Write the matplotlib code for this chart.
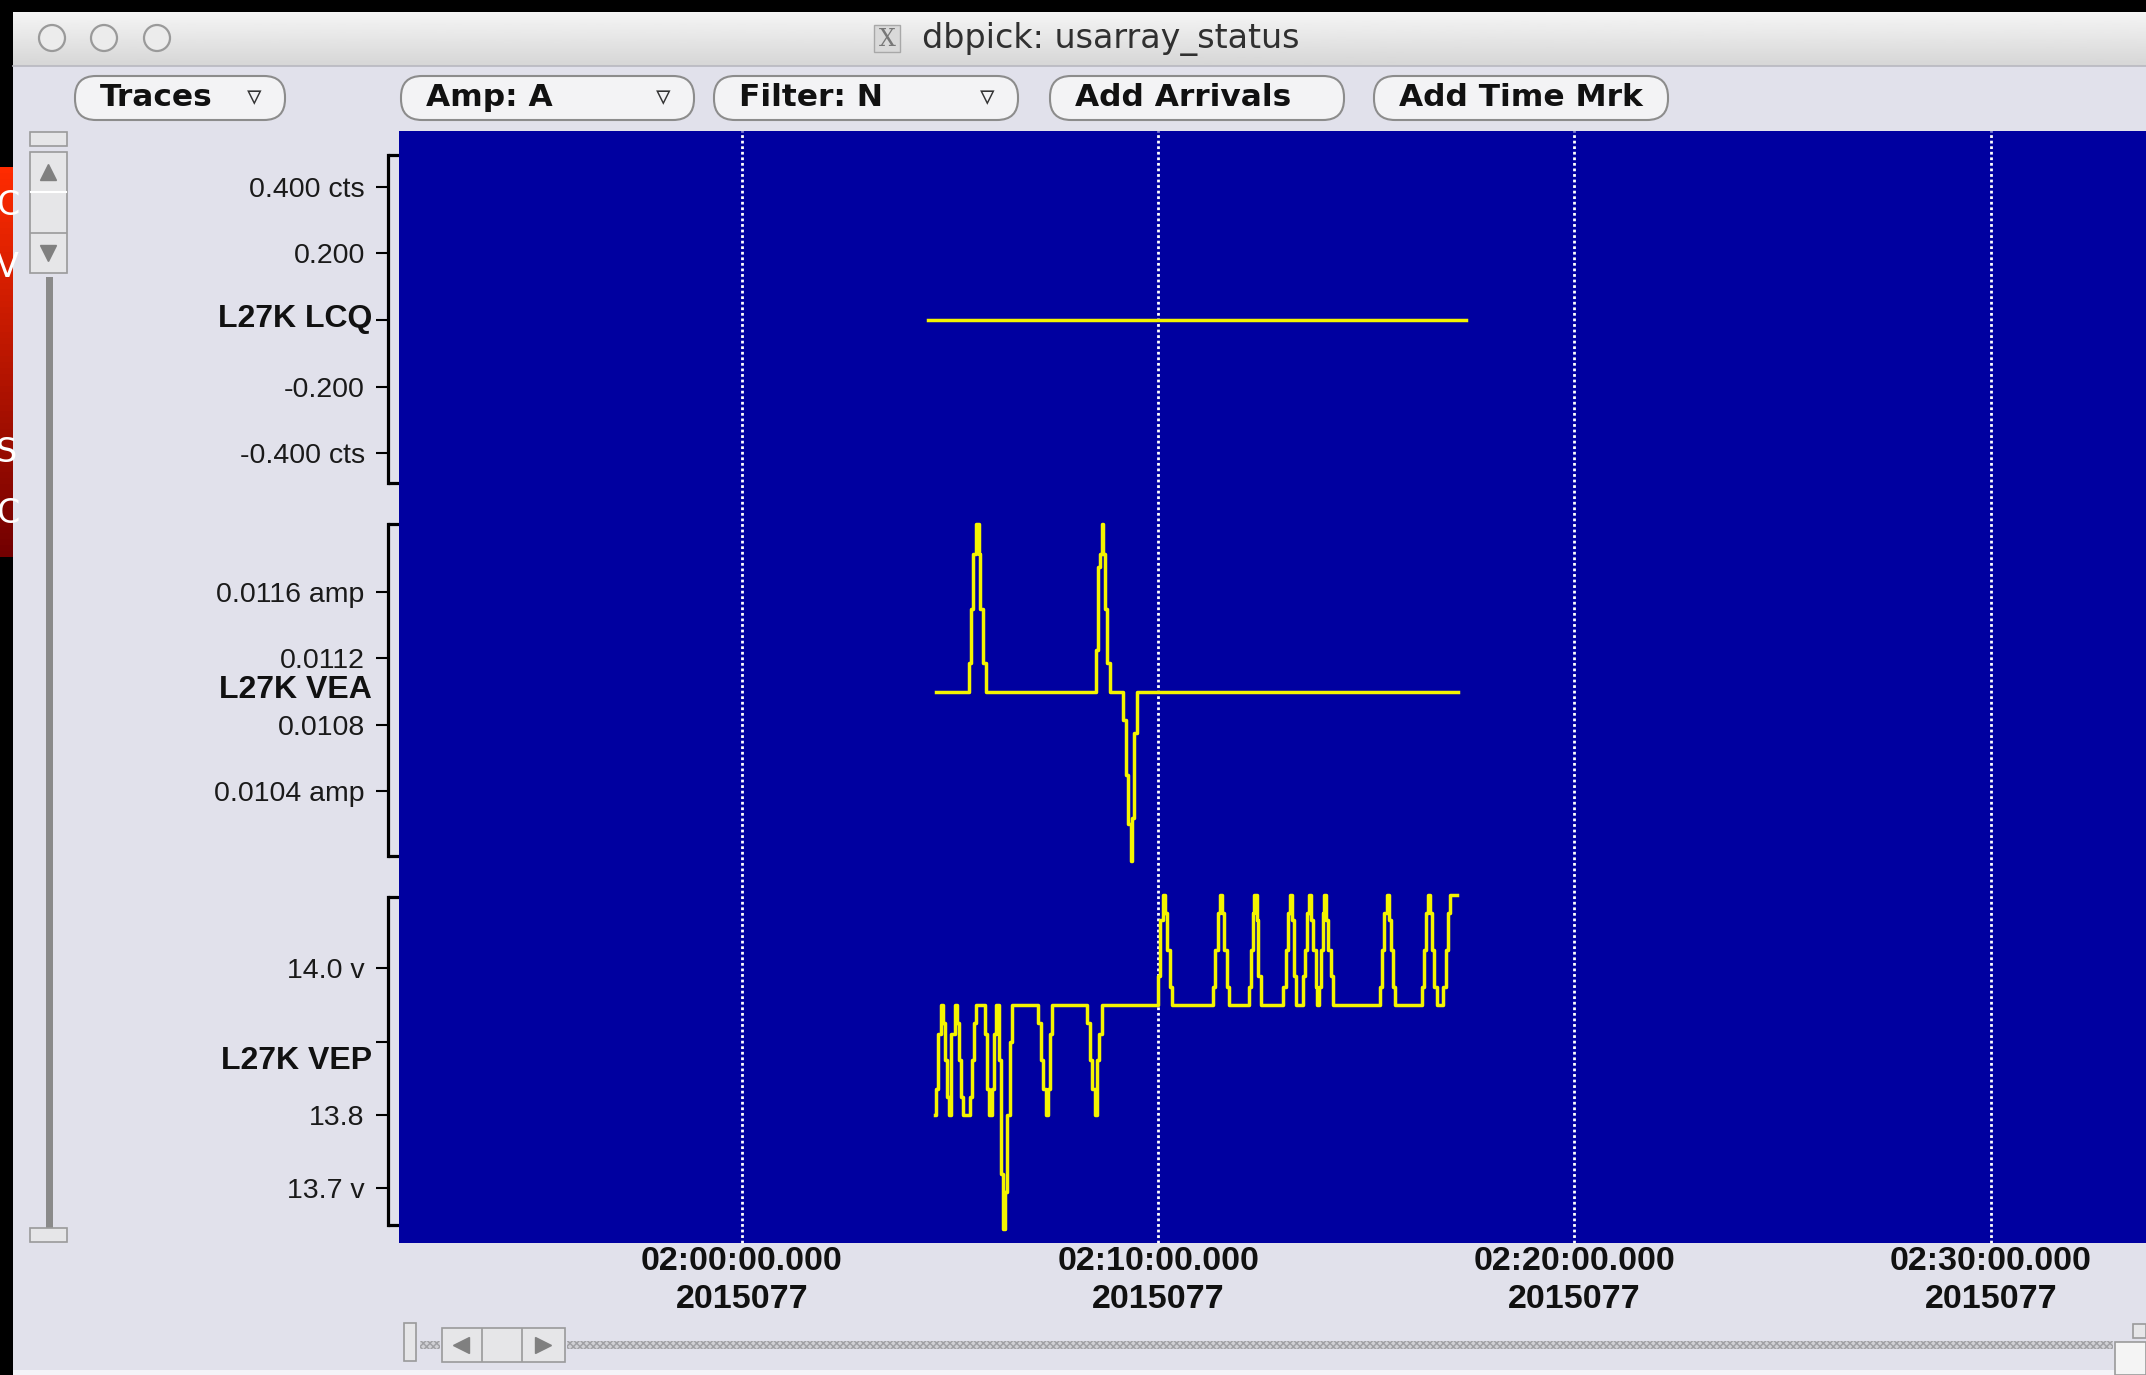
import numpy as np
import matplotlib

matplotlib.use('Agg')
import matplotlib.pyplot as plt
from matplotlib.patches import Rectangle, FancyBboxPatch, Circle

W, H = 2146, 1375
DPI = 100

# minutes after 02:00:00 on day 2015077
lcq_t = [4.47, 17.39]
lcq_v = [0.0, 0.0]

vea_t = [4.650, 5.459, 5.505, 5.560, 5.615, 5.689, 5.726, 5.799, 5.854,
         8.502, 8.557, 8.612, 8.649, 8.667, 8.722, 8.778, 8.833,
         9.155, 9.219, 9.283, 9.348, 9.366, 9.421, 9.485, 17.190]
vea_v = [0.01100, 0.01117, 0.01150, 0.01183, 0.01201, 0.01183, 0.01150, 0.01117, 0.01100,
         0.01125, 0.01175, 0.01183, 0.01201, 0.01183, 0.01150, 0.01117, 0.01100,
         0.01083, 0.01050, 0.01020, 0.00998, 0.01024, 0.01075, 0.01100, 0.01100]

vep_t = [4.640, 4.668, 4.714, 4.788, 4.825, 4.880, 4.926, 4.972, 5.018, 5.128,
         5.174, 5.220, 5.266, 5.312, 5.468, 5.523, 5.569, 5.615, 5.836, 5.891,
         5.937, 6.001, 6.047, 6.093, 6.167, 6.231, 6.277, 6.323, 6.369, 6.433,
         6.489, 7.123, 7.178, 7.242, 7.298, 7.344, 7.399, 7.454, 8.299, 8.364,
         8.419, 8.474, 8.520, 8.575, 8.640,
         10.001, 10.041, 10.121, 10.161, 10.217, 10.281, 10.329,
         11.322, 11.370, 11.426, 11.482, 11.522, 11.579, 11.643, 11.691,
         12.171, 12.219, 12.267, 12.307, 12.363, 12.403, 12.467,
         13.004, 13.060, 13.108, 13.164, 13.204, 13.260, 13.308,
         13.484, 13.532, 13.580, 13.628, 13.668, 13.724, 13.780, 13.821,
         13.853, 13.901, 13.949, 13.981, 14.021, 14.085, 14.141, 14.189,
         15.326, 15.382, 15.430, 15.486, 15.534, 15.582, 15.646, 15.694,
         16.327, 16.383, 16.439, 16.487, 16.527, 16.583, 16.631, 16.687,
         16.847, 16.903, 16.951, 17.007, 17.183]
vep_v = [13.800, 13.835, 13.910, 13.950, 13.925, 13.875, 13.825, 13.800, 13.910, 13.950,
         13.925, 13.875, 13.825, 13.800, 13.825, 13.875, 13.925, 13.950, 13.910, 13.835,
         13.800, 13.835, 13.910, 13.950, 13.875, 13.720, 13.645, 13.695, 13.800, 13.900,
         13.950, 13.925, 13.875, 13.835, 13.800, 13.835, 13.910, 13.950, 13.925, 13.875,
         13.835, 13.800, 13.875, 13.910, 13.950,
         13.990, 14.065, 14.100, 14.075, 14.025, 13.975, 13.950,
         13.975, 14.025, 14.075, 14.100, 14.075, 14.025, 13.975, 13.950,
         13.975, 14.025, 14.075, 14.100, 14.065, 13.990, 13.950,
         13.975, 14.025, 14.075, 14.100, 14.065, 13.990, 13.950,
         13.990, 14.025, 14.075, 14.100, 14.065, 14.025, 13.975, 13.950,
         13.975, 14.025, 14.075, 14.100, 14.065, 14.025, 13.990, 13.950,
         13.975, 14.025, 14.075, 14.100, 14.065, 14.025, 13.975, 13.950,
         13.975, 14.025, 14.075, 14.100, 14.075, 14.025, 13.975, 13.950,
         13.975, 14.025, 14.075, 14.100, 14.100]

time_ticks = [0, 10, 20, 30]
time_labels = ['02:00:00.000\n2015077', '02:10:00.000\n2015077',
               '02:20:00.000\n2015077', '02:30:00.000\n2015077']
x_range = (-8.24, 33.73)

channels = [
    # name, t, v, ylim, ticks, tick labels, box top/bottom (px)
    ('L27K LCQ', lcq_t, lcq_v, (-0.490, 0.496),
     [0.4, 0.2, 0.0, -0.2, -0.4], ['0.400 cts', '0.200', '', '-0.200', '-0.400 cts'], (155, 483)),
    ('L27K VEA', vea_t, vea_v, (0.01001, 0.01201),
     [0.0116, 0.0112, 0.0108, 0.0104], ['0.0116 amp', '0.0112', '0.0108', '0.0104 amp'], (524, 856)),
    ('L27K VEP', vep_t, vep_v, (13.650, 14.097),
     [14.0, 13.9, 13.8, 13.7], ['14.0 v', '', '13.8', '13.7 v'], (897, 1225)),
]

buttons = [('Traces', 75, 285, True), ('Amp: A', 401, 694, True), ('Filter: N', 714, 1018, True),
           ('Add Arrivals', 1050, 1344, False), ('Add Time Mrk', 1374, 1668, False)]

BG = '#e1e1eb'
BLUE = '#0000a0'
YELLOW = '#f4f400'
TICKFONT = ['Liberation Sans', 'DejaVu Sans']


def box(x0, y0, x1, y1):
    return [x0 / W, 1 - y1 / H, (x1 - x0) / W, (y1 - y0) / H]


fig = plt.figure(figsize=(W / DPI, H / DPI), dpi=DPI)
fig.patch.set_facecolor(BG)

# window chrome, drawn in pixel coordinates
ui = fig.add_axes([0, 0, 1, 1], zorder=0)
ui.set_xlim(0, W)
ui.set_ylim(H, 0)
ui.axis('off')

grad = np.linspace(0.96, 0.84, 64).reshape(-1, 1)
ui.imshow(grad, cmap='gray', vmin=0, vmax=1, extent=[13, W, 66, 12], aspect='auto', zorder=1)
ui.add_patch(Rectangle((0, 0), W, 12, fc='black', ec='none', zorder=2))
ui.add_patch(Rectangle((0, 0), 13, H, fc='black', ec='none', zorder=2))
red = np.linspace(0, 1, 64).reshape(-1, 1)
ui.imshow(np.dstack([1 - 0.55 * red, 0.17 * (1 - red), 0 * red]),
          extent=[0, 13, 557, 167], aspect='auto', zorder=3)
for ty, ch_ in ((205, 'C'), (267, 'V'), (452, 'S'), (513, 'C')):
    ui.text(-4, ty, ch_, ha='left', va='center', fontsize=24, color='white',
            family='DejaVu Sans', zorder=4, clip_on=True)
ui.add_patch(Rectangle((13, 1370), W, 5, fc='#f4f4f8', ec='none', zorder=2))
ui.plot([13, W], [66, 66], color='#b8b8c0', lw=1.2, zorder=3)
ui.set_xlim(0, W)
ui.set_ylim(H, 0)

for cx in (52, 104, 157):
    ui.add_patch(Circle((cx, 38), 13, fc='#ececec', ec='#9a9a9a', lw=1.6, zorder=4))
ui.add_patch(Rectangle((874, 25), 26, 27, fc='#d9d9d9', ec='#a8a8a8', lw=1, zorder=4))
ui.text(887, 39, 'X', ha='center', va='center', fontsize=17, color='#777777',
        family='DejaVu Serif', zorder=5)
ui.text(922, 39, 'dbpick: usarray_status', ha='left', va='center', fontsize=24,
        color='#303030', family='DejaVu Sans', zorder=5)

for label, x0, x1, menu in buttons:
    ui.add_patch(FancyBboxPatch((x0, 76), x1 - x0, 44, boxstyle='round,pad=0,rounding_size=21',
                                fc='#f3f3f5', ec='#8c8c8c', lw=1.5, zorder=4))
    ui.text(x0 + 25, 97, label, ha='left', va='center', fontsize=22.5, fontweight='bold',
            color='#111111', family='DejaVu Sans', zorder=5)
    if menu:
        ui.text(x1 - 31, 97, '\u25bf', ha='center', va='center', fontsize=21,
                color='#333333', family='DejaVu Sans', zorder=5)

# vertical scroller
ui.add_patch(Rectangle((30, 132), 37, 14, fc='#e6e6e8', ec='#9a9a9a', lw=1.2, zorder=4))
ui.add_patch(Rectangle((30, 152), 37, 121, fc='#e6e6e8', ec='#9a9a9a', lw=1.2, zorder=4))
ui.plot([31, 66], [192, 192], color='white', lw=1.5, zorder=5)
ui.plot([31, 66], [233, 233], color='#9a9a9a', lw=1.2, zorder=5)
ui.plot([48], [172], marker='^', ms=11, color='#808080', zorder=5)
ui.plot([48], [253], marker='v', ms=11, color='#808080', zorder=5)
ui.add_patch(Rectangle((46, 277), 7, 951, fc='#8a8a8a', ec='none', zorder=4))
ui.add_patch(Rectangle((30, 1228), 37, 14, fc='#e6e6e8', ec='#9a9a9a', lw=1.2, zorder=4))

# horizontal scroller
ui.add_patch(Rectangle((404, 1323), 12, 38, fc='#e6e6e8', ec='#9a9a9a', lw=1.2, zorder=4))
ui.add_patch(Rectangle((420, 1341), 20, 8, fc='#d0d0d4', ec='#a0a0a4', lw=0, hatch='xxxxx', zorder=4))
ui.add_patch(Rectangle((442, 1328), 123, 34, fc='#e6e6e8', ec='#9a9a9a', lw=1.2, zorder=4))
ui.plot([482, 482], [1329, 1361], color='#9a9a9a', lw=1.2, zorder=5)
ui.plot([522, 522], [1329, 1361], color='#9a9a9a', lw=1.2, zorder=5)
ui.plot([461], [1345], marker='<', ms=11, color='#808080', zorder=5)
ui.plot([543], [1345], marker='>', ms=11, color='#808080', zorder=5)
ui.add_patch(Rectangle((567, 1341), 1546, 8, fc='#d0d0d4', ec='#a0a0a4', lw=0, hatch='xxxxx', zorder=4))
ui.add_patch(Rectangle((2133, 1324), 13, 14, fc='#e6e6e8', ec='#9a9a9a', lw=1.2, zorder=4))
ui.add_patch(Rectangle((2115, 1342), 31, 33, fc='#f4f4f4', ec='#9a9a9a', lw=1.2, zorder=4))

# trace window
ax = fig.add_axes(box(399, 131, W, 1243), zorder=1)
ax.set_facecolor(BLUE)
ax.set_xlim(*x_range)
ax.set_ylim(0, 1)
for s in ax.spines.values():
    s.set_visible(False)
ax.set_yticks([])
ax.set_xticks(time_ticks)
ax.set_xticklabels(time_labels, fontsize=24.5, fontweight='bold', family=TICKFONT,
                   linespacing=1.26, color='#111111')
ax.tick_params(axis='x', length=0, pad=2.5)
for t in time_ticks:
    ax.axvline(t, color='white', lw=2.0, ls=(0, (1, 1.0)))

for name, t, v, ylim, ticks, labels, (top, bot) in channels:
    ch = fig.add_axes(box(399, top, W, bot), zorder=2, sharex=ax)
    ch.patch.set_alpha(0)
    ch.step(t, v, where='post', color=YELLOW, lw=2.5, clip_on=False)
    ch.set_ylim(*ylim)
    for side in ('top', 'right', 'bottom'):
        ch.spines[side].set_visible(False)
    ch.spines['left'].set_position(('outward', 8))
    ch.spines['left'].set_linewidth(2.3)
    ch.xaxis.set_visible(False)
    ch.set_yticks(ticks)
    ch.set_yticklabels(labels, fontsize=20.5, family=TICKFONT, color='#1a1a1a')
    ch.tick_params(axis='y', length=8.6, width=1.5, pad=8)
    ch.annotate(name, xy=(0, 0.5), xycoords='axes fraction', xytext=(-27, 0),
                textcoords='offset pixels', ha='right', va='center', fontsize=23,
                fontweight='bold', family=TICKFONT, color='#111111')
    for y in (top, bot):
        ui.plot([388, 400], [y, y], color='black', lw=2.3, zorder=5, solid_capstyle='butt')

fig.savefig('out.png', dpi=DPI, facecolor=fig.get_facecolor())
